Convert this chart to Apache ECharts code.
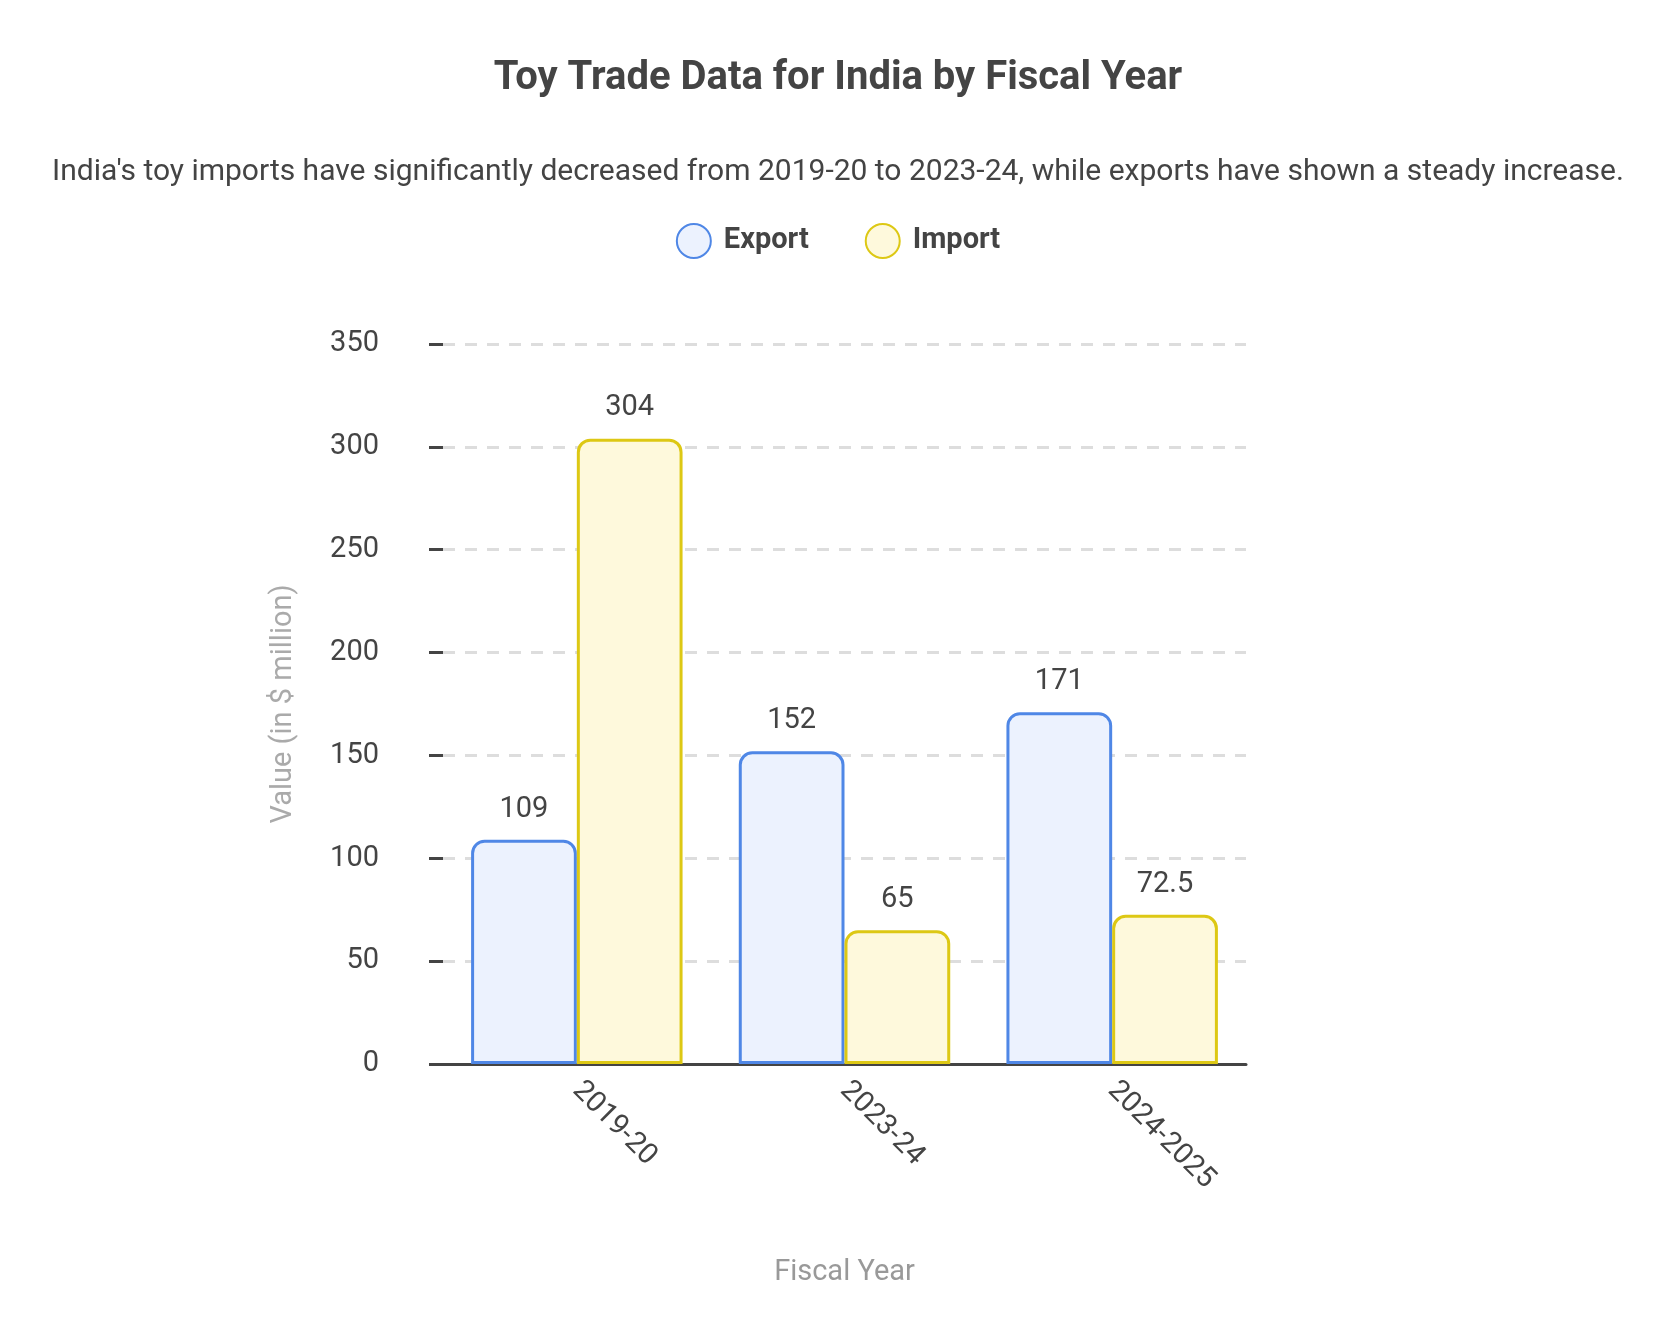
<!DOCTYPE html>
<html>
<head>
<meta charset="utf-8">
<script src="https://cdn.jsdelivr.net/npm/echarts@6/dist/echarts.min.js"></script>
<style>
  html, body { margin: 0; background: #fff; }
  #chart { width: 1676px; height: 1341px; }
</style>
</head>
<body>
<div id="chart"></div>
<script>
const categories = ['2019-20', '2023-24', '2024-2025']
const exportValues = [109, 152, 171]
const importValues = [304, 65, 72.5]
const yTicks = { min: 0, max: 350, interval: 50 }

let chart = echarts.init(document.getElementById('chart'))
const font = 'Roboto'
const labelStyle = { show: true, position: 'top', distance: 16, fontSize: 29, color: '#444', fontFamily: font }

chart.setOption({
  title: [{
    text: 'Toy Trade Data for India by Fiscal Year',
    left: 'center', top: 54,
    textStyle: { fontSize: 40, fontWeight: 'bold', color: '#444', fontFamily: font }
  }, {
    text: "India's toy imports have significantly decreased from 2019-20 to 2023-24, while exports have shown a steady increase.",
    left: 'center', top: 152,
    textStyle: { fontSize: 30, fontWeight: 'normal', color: '#444', fontFamily: font }
  }],
  legend: {
    top: 218, left: 'center', itemGap: 56,
    icon: 'circle', itemWidth: 34, itemHeight: 34,
    textStyle: { fontSize: 29, fontWeight: 'bold', color: '#444', fontFamily: font, padding: [0, 0, 0, 8] },
    data: ['Export', 'Import']
  },
  grid: { left: 443, right: 430, top: 344, bottom: 277, containLabel: false },
  xAxis: {
    type: 'category',
    data: categories,
    name: 'Fiscal Year', nameLocation: 'middle', nameGap: 194,
    nameTextStyle: { fontSize: 29, color: '#999', fontFamily: font },
    axisLine: { lineStyle: { color: '#444', width: 3 } },
    axisTick: { alignWithLabel: true, length: 10, lineStyle: { color: '#444', width: 3 } },
    axisLabel: { rotate: -45, fontSize: 29, color: '#444', fontFamily: font, margin: 22 }
  },
  yAxis: {
    type: 'value',
    min: yTicks.min, max: yTicks.max, interval: yTicks.interval,
    name: 'Value (in $ million)', nameLocation: 'middle', nameGap: 145,
    nameTextStyle: { fontSize: 29, color: '#aaa', fontFamily: font },
    axisLine: { show: false },
    axisTick: { show: true, length: 14, lineStyle: { color: '#444', width: 3 } },
    axisLabel: { fontSize: 29, color: '#444', fontFamily: font, margin: 64 },
    splitLine: { lineStyle: { color: '#ddd', width: 3, type: [12, 10] } }
  },
  series: [{
    name: 'Export', type: 'bar', data: exportValues,
    barGap: '0%', barCategoryGap: '21%',
    itemStyle: { color: '#ecf2fe', borderColor: '#4f87e6', borderWidth: 3, borderRadius: [12, 12, 0, 0] },
    label: labelStyle
  }, {
    name: 'Import', type: 'bar', data: importValues,
    itemStyle: { color: '#fef9dc', borderColor: '#ddc814', borderWidth: 3, borderRadius: [12, 12, 0, 0] },
    label: labelStyle
  }]
})
</script>
</body>
</html>
